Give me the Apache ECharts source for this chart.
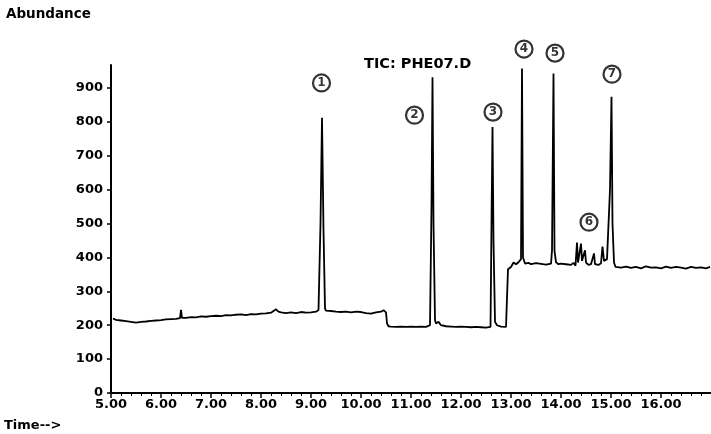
<!DOCTYPE html>
<html>
<head>
<meta charset="utf-8">
<script src="https://cdn.jsdelivr.net/npm/echarts@6/dist/echarts.min.js"></script>
<style>
html,body{margin:0;padding:0;background:#fff;}
#c{width:711px;height:434px;}
</style>
</head>
<body>
<div id="c"></div>
<script>
// Retention time (min)
var times = [
5.04,5.1,5.2,5.3,5.4,5.5,5.6,5.7,5.8,5.9,6.0,6.1,6.2,6.3,6.38,6.4,6.42,6.5,6.6,6.7,6.8,6.9,7.0,7.1,7.2,7.3,7.4,7.5,7.6,7.7,7.8,7.9,8.0,8.1,8.2,8.3,8.35,8.4,8.5,8.6,8.7,8.8,8.9,9.0,9.1,9.15,9.19,9.22,9.25,9.28,9.3,9.4,9.5,9.6,9.7,9.8,9.9,10.0,10.1,10.2,10.3,10.4,10.45,10.5,10.52,10.55,
10.6,10.7,10.8,10.9,11.0,11.1,11.2,11.3,11.38,11.41,11.43,11.45,11.48,11.5,11.55,11.6,11.7,11.8,11.9,12.0,12.1,12.2,12.3,12.4,12.5,12.59,12.61,12.63,12.65,12.68,12.72,12.8,12.9,12.92,12.94,
13.0,13.05,13.1,13.15,13.2,13.22,13.24,13.28,13.35,13.4,13.5,13.6,13.7,13.8,13.82,13.85,13.87,13.9,13.95,14.0,14.1,14.2,14.25,14.29,14.32,14.34,14.37,14.4,14.42,14.45,14.48,14.5,14.55,14.6,14.66,14.68,14.75,14.8,14.83,14.86,14.92,14.98,15.01,15.03,15.06,15.09,
15.12,15.2,15.3,15.4,15.5,15.6,15.7,15.8,15.9,16.0,16.1,16.2,16.3,16.4,16.5,16.6,16.7,16.8,16.9,16.98
];
// Abundance
var abundance = [
220,216,214,212,210,208,210,211,213,214,215,217,218,219,221,245,222,222,224,223,226,225,227,228,227,230,229,231,232,230,233,232,234,235,237,247,240,238,236,238,236,239,237,238,240,245,500,812,480,250,243,242,240,239,240,238,240,239,236,234,238,240,244,238,205,197,
196,195,196,195,196,195,196,195,200,550,932,500,215,205,210,200,197,196,195,196,195,194,195,194,193,195,500,785,450,210,200,196,195,196,365,
372,385,380,386,395,958,400,382,384,380,383,381,379,382,420,943,420,386,380,382,380,378,384,376,444,385,380,441,390,385,421,385,378,380,412,380,378,383,432,390,395,600,874,500,385,372,
374,370,373,369,372,368,374,370,371,368,373,369,372,370,367,372,369,371,368,372
];
// Peak annotations
var peakLabelTimes = [9.21, 11.07, 12.64, 13.26, 13.88, 14.56, 15.02];
var peakLabelValues = [915, 820, 829, 1015, 1003, 504, 941];
var peakLabelTexts = ['1','2','3','4','5','6','7'];
// Tick labels
var xTicks = [5,6,7,8,9,10,11,12,13,14,15,16];
var yTicks = [0,100,200,300,400,500,600,700,800,900];

var lineData = times.map(function(t,i){return [t, abundance[i]];});
var labelData = peakLabelTimes.map(function(t,i){return [t, peakLabelValues[i], peakLabelTexts[i]];});

var FONT = 'DejaVu Sans';
var chart = echarts.init(document.getElementById('c'));
chart.setOption({
  animation:false,
  backgroundColor:'#fff',
  title:{
    text:'TIC: PHE07.D', left:359, top:52,
    textStyle:{fontFamily:FONT, fontWeight:'bold', fontSize:14.5, color:'#000'}
  },
  graphic:[
    {type:'text', left:6, top:7, style:{text:'Abundance', font:'bold 13.5px "DejaVu Sans"', fill:'#000'}},
    {type:'text', left:4, top:419, style:{text:'Time-->', font:'bold 13px "DejaVu Sans"', fill:'#000'}}
  ],
  grid:{left:111, right:0, top:65, bottom:41, containLabel:false},
  xAxis:{
    type:'value', min:5, max:17, interval:1,
    axisLine:{lineStyle:{color:'#000', width:2}},
    axisTick:{show:true, inside:false, length:5, lineStyle:{color:'#000', width:1.5}, customValues:xTicks},
    minorTick:{show:true, splitNumber:5, length:3, lineStyle:{color:'#000', width:1}},
    splitLine:{show:false},
    axisLabel:{customValues:xTicks, margin:5, color:'#000', fontFamily:FONT, fontWeight:'bold', fontSize:13,
      formatter:function(v){return v.toFixed(2);}}
  },
  yAxis:{
    type:'value', min:0, max:968,
    axisLine:{show:true, lineStyle:{color:'#000', width:2}},
    axisTick:{show:true, length:4, lineStyle:{color:'#000', width:1.5}, customValues:yTicks},
    splitLine:{show:false},
    axisLabel:{customValues:yTicks, margin:8, color:'#000', fontFamily:FONT, fontWeight:'bold', fontSize:13}
  },
  series:[
    {
      type:'line', data:lineData, showSymbol:false, symbol:'none', sampling:null,
      lineStyle:{color:'#000', width:1.8}, z:2
    },
    {
      type:'scatter', data:labelData, clip:false, symbol:'circle', symbolSize:17,
      itemStyle:{color:'#fff', borderColor:'#000', borderWidth:2.2},
      label:{show:true, position:'inside', formatter:function(p){return p.data[2];},
        color:'#000', fontFamily:FONT, fontWeight:'bold', fontSize:12},
      z:3
    }
  ]
});
</script>
</body>
</html>
